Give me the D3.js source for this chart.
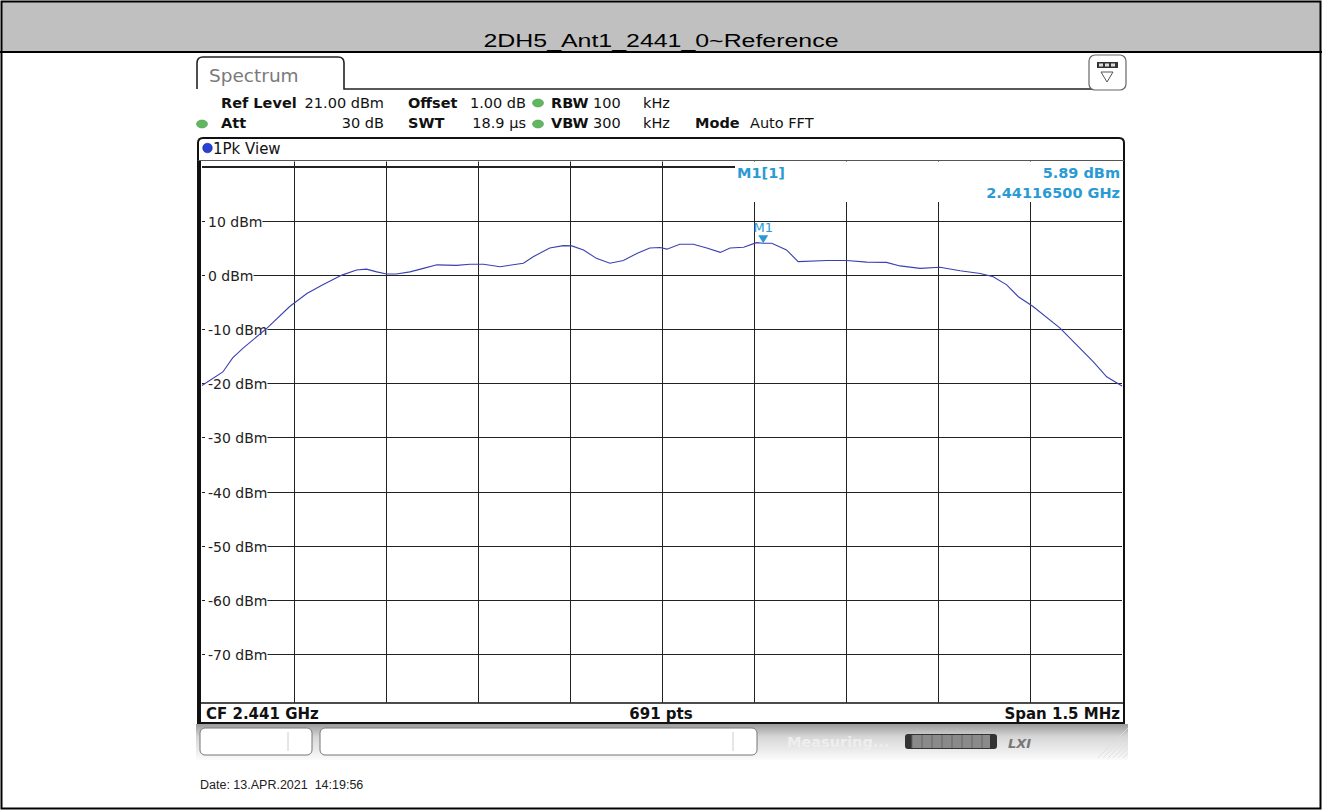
<!DOCTYPE html>
<html>
<head>
<meta charset="utf-8">
<script src="https://cdn.jsdelivr.net/npm/d3@7"></script>
<style>
  body { margin: 0; background: #fff; }
  svg { display: block; }
  .ui { font-family: "DejaVu Sans", Verdana, sans-serif; font-size: 14.5px; }
  .b { font-weight: bold; }
</style>
</head>
<body>
<div id="chart"></div>
<script>
// trace: offset from CF in kHz, level in dBm
const freqOffsetKHz = [-750, -716, -700, -683, -644, -607, -579, -553, -522, -498, -482, -465,
  -449, -433, -411, -389, -367, -335, -313, -291, -264, -226, -210, -183, -161, -147, -128,
  -107, -85, -63, -41, -20, -3, 8, 29, 51, 73, 95, 111, 133, 154, 165, 179, 203, 222, 269,
  301, 334, 366, 388, 421, 453, 486, 519, 540, 562, 581, 605, 649, 676, 703, 725, 750];
const levelDbm = [-20.4, -17.9, -15.3, -13.5, -9.8, -5.8, -3.4, -1.8, 0.0, 0.95, 1.1, 0.6,
  0.2, 0.2, 0.6, 1.25, 1.9, 1.8, 2.0, 2.0, 1.55, 2.2, 3.4, 5.0, 5.45, 5.4, 4.65,
  3.1, 2.2, 2.7, 4.0, 5.0, 5.1, 4.8, 5.7, 5.7, 5.0, 4.2, 5.0, 5.15, 6.0, 5.89, 5.9, 4.65, 2.5, 2.7,
  2.7, 2.4, 2.35, 1.7, 1.25, 1.45, 0.8, 0.3, -0.3, -1.8, -4.0, -5.8, -9.8, -12.9, -16.0, -18.8, -20.5];

const yGridValues = [20, 10, 0, -10, -20, -30, -40, -50, -60, -70];
const yTickLabels = ["10 dBm", "0 dBm", "-10 dBm", "-20 dBm", "-30 dBm", "-40 dBm", "-50 dBm", "-60 dBm", "-70 dBm"];
const xGridValues = [-600, -450, -300, -150, 0, 150, 300, 450, 600];

const marker = { name: "M1", offset: 165, level: 5.89 };

const W = 1322, H = 810;
const svg = d3.select("#chart").append("svg").attr("width", W).attr("height", H);

// page frame + title bar
svg.append("rect").attr("x", 0).attr("y", 0).attr("width", W).attr("height", H).attr("fill", "#fff");
svg.append("rect").attr("x", 2).attr("y", 2).attr("width", W - 4).attr("height", 50).attr("fill", "#c0c0c0");
svg.append("rect").attr("x", 1.5).attr("y", 1.5).attr("width", W - 3).attr("height", H - 3)
  .attr("fill", "none").attr("stroke", "#000").attr("stroke-width", 2);
svg.append("line").attr("x1", 0).attr("x2", W).attr("y1", 52).attr("y2", 52)
  .attr("stroke", "#000").attr("stroke-width", 2);
svg.append("text").attr("x", 661).attr("y", 46.5).attr("text-anchor", "middle")
  .style("font-family", "'Liberation Sans', Arial, sans-serif").style("font-size", "18px")
  .attr("textLength", 355).attr("lengthAdjust", "spacingAndGlyphs")
  .text("2DH5_Ant1_2441_0~Reference");

// analyzer screenshot area
const scr = svg.append("g");
scr.append("rect").attr("x", 196).attr("y", 53).attr("width", 932).attr("height", 717).attr("fill", "#fff");

// Spectrum tab
scr.append("path")
  .attr("d", "M197,89 L197,63 Q197,57 203,57 L338,57 Q344,57 344,63 L344,89 L1092,89")
  .attr("fill", "none").attr("stroke", "#222").attr("stroke-width", 1.6);
scr.append("text").attr("class", "ui").attr("x", 209).attr("y", 82)
  .style("font-size", "18.5px").attr("fill", "#7a7a7a").text("Spectrum");

// top-right icon
scr.append("rect").attr("x", 1089).attr("y", 55).attr("width", 37).attr("height", 35).attr("rx", 6)
  .attr("fill", "#fff").attr("stroke", "#666").attr("stroke-width", 1.2);
scr.append("rect").attr("x", 1097).attr("y", 62).attr("width", 21).attr("height", 6).attr("fill", "#333");
[1099, 1105, 1111].forEach(x => scr.append("rect").attr("x", x).attr("y", 63.5).attr("width", 4).attr("height", 3).attr("fill", "#ddd"));
scr.append("path").attr("d", "M1101,72 L1113,72 L1107,82 Z").attr("fill", "none").attr("stroke", "#555");

// settings rows
const greenDot = (x, y) => scr.append("ellipse").attr("cx", x).attr("cy", y).attr("rx", 5.5).attr("ry", 4)
  .attr("fill", "#5fb85f").attr("stroke", "#3d8d3d").attr("stroke-width", 0.5);
const txt = (x, y, s, bold, anchor) => scr.append("text").attr("class", "ui" + (bold ? " b" : ""))
  .attr("x", x).attr("y", y).attr("text-anchor", anchor || "start").attr("fill", "#111").text(s);

txt(221, 108, "Ref Level", true);
txt(384, 108, "21.00 dBm", false, "end");
txt(408, 108, "Offset", true);
txt(526, 108, "1.00 dB", false, "end");
greenDot(538, 103);
txt(551, 108, "RBW", true);
txt(593, 108, "100");
txt(643, 108, "kHz");

greenDot(202, 124);
txt(221, 128, "Att", true);
txt(384, 128, "30 dB", false, "end");
txt(408, 128, "SWT", true);
txt(526, 128, "18.9 µs", false, "end");
greenDot(538, 124);
txt(551, 128, "VBW", true);
txt(593, 128, "300");
txt(643, 128, "kHz");
txt(695, 128, "Mode", true);
txt(750, 128, "Auto FFT");

// scales
const x = d3.scaleLinear().domain([-750, 750]).range([202, 1122]);
const y = d3.scaleLinear().domain([-79, 21]).range([702.5, 161.5]);

// diagram frame
scr.append("path")
  .attr("d", "M198,723 L198,143 Q198,138 203,138 L1119,138 Q1124,138 1124,143 L1124,723 Z")
  .attr("fill", "#fff").attr("stroke", "#111").attr("stroke-width", 2);
scr.append("line").attr("x1", 199).attr("x2", 199).attr("y1", 160).attr("y2", 723)
  .attr("stroke", "#111").attr("stroke-width", 4);
scr.append("line").attr("x1", 198).attr("x2", 1124).attr("y1", 160.5).attr("y2", 160.5)
  .attr("stroke", "#555").attr("stroke-width", 1);
scr.append("circle").attr("cx", 207.5).attr("cy", 148).attr("r", 4.8).attr("fill", "#2a3fd6").attr("stroke", "#1a2a90").attr("stroke-width", 0.6);
scr.append("text").attr("class", "ui").attr("x", 213).attr("y", 153.5).style("font-size", "15px").attr("fill", "#111").text("1Pk View");

// grid
const grid = scr.append("g").attr("stroke", "#222").attr("stroke-width", 1);
grid.selectAll("line.h").data(yGridValues).enter().append("line")
  .attr("x1", x(-750)).attr("x2", x(750))
  .attr("y1", d => Math.round(y(d)) + 0.5).attr("y2", d => Math.round(y(d)) + 0.5);
grid.selectAll("line.v").data(xGridValues).enter().append("line")
  .attr("x1", d => Math.round(x(d)) + 0.5).attr("x2", d => Math.round(x(d)) + 0.5)
  .attr("y1", y(21)).attr("y2", y(-79));

// marker info box hides part of the grid
scr.append("rect").attr("x", 735).attr("y", 162).attr("width", 387).attr("height", 40).attr("fill", "#fff");

// y labels with white backing
const labels = scr.selectAll("g.ylab").data(yTickLabels).enter().append("g")
  .attr("transform", (d, i) => "translate(208," + (Math.round(y(yGridValues[i + 1])) + 0.5) + ")");
labels.append("text").attr("class", "ui").attr("y", 5).style("font-size", "14px").attr("fill", "#222").text(d => d)
  .each(function () {
    const bb = this.getBBox();
    d3.select(this.parentNode).insert("rect", "text")
      .attr("x", -3).attr("y", -6).attr("width", bb.width + 3).attr("height", 12).attr("fill", "#fff");
  });

// trace
const trace = freqOffsetKHz.map((f, i) => [f, levelDbm[i]]);
scr.append("path").datum(trace)
  .attr("fill", "none").attr("stroke", "#3a40b0").attr("stroke-width", 1.1)
  .attr("d", d3.line().x(d => x(d[0])).y(d => y(d[1])));

// marker
const mc = "#2a9ad4";
const mx = x(marker.offset), my = y(marker.level);
scr.append("path").attr("d", `M${mx - 5},${my - 8} L${mx + 5},${my - 8} L${mx},${my} Z`).attr("fill", mc);
scr.append("text").attr("class", "ui").attr("x", mx).attr("y", my - 11).attr("text-anchor", "middle")
  .attr("fill", mc).style("font-size", "13px").text(marker.name);
scr.append("line").attr("x1", 202).attr("x2", 735).attr("y1", 166.5).attr("y2", 166.5).attr("stroke", "#222");
scr.append("text").attr("class", "ui b").attr("x", 737).attr("y", 178).attr("fill", mc).text("M1[1]");
scr.append("text").attr("class", "ui b").attr("x", 1120).attr("y", 178).attr("text-anchor", "end").attr("fill", mc).text(marker.level.toFixed(2) + " dBm");
scr.append("text").attr("class", "ui b").attr("x", 1120).attr("y", 198).attr("text-anchor", "end").attr("fill", mc).text("2.44116500 GHz");

// footer row of diagram
scr.append("line").attr("x1", 199).attr("x2", 1124).attr("y1", 703).attr("y2", 703).attr("stroke", "#111").attr("stroke-width", 1.5);
scr.append("text").attr("class", "ui b").attr("x", 206).attr("y", 718.5).style("font-size", "15px").attr("fill", "#111").text("CF 2.441 GHz");
scr.append("text").attr("class", "ui b").attr("x", 661).attr("y", 718.5).style("font-size", "15px").attr("text-anchor", "middle").attr("fill", "#111").text("691 pts");
scr.append("text").attr("class", "ui b").attr("x", 1120).attr("y", 718.5).style("font-size", "15px").attr("text-anchor", "end").attr("fill", "#111").text("Span 1.5 MHz");

// status bar
const defs = svg.append("defs");
const lg = defs.append("linearGradient").attr("id", "sb").attr("x1", 0).attr("y1", 0).attr("x2", 0).attr("y2", 1);
lg.append("stop").attr("offset", "0").attr("stop-color", "#9a9a9a");
lg.append("stop").attr("offset", "0.35").attr("stop-color", "#d6d6d6");
lg.append("stop").attr("offset", "1").attr("stop-color", "#fbfbfb");
scr.append("rect").attr("x", 196).attr("y", 724).attr("width", 932).attr("height", 36).attr("fill", "url(#sb)");
scr.append("rect").attr("x", 200).attr("y", 728).attr("width", 112).attr("height", 27).attr("rx", 5)
  .attr("fill", "#fff").attr("stroke", "#777");
scr.append("line").attr("x1", 288).attr("x2", 288).attr("y1", 732).attr("y2", 751).attr("stroke", "#ccc");
scr.append("rect").attr("x", 320).attr("y", 728).attr("width", 437).attr("height", 27).attr("rx", 5)
  .attr("fill", "#fff").attr("stroke", "#777");
scr.append("line").attr("x1", 733).attr("x2", 733).attr("y1", 732).attr("y2", 751).attr("stroke", "#ccc");
scr.append("text").attr("class", "ui b").attr("x", 787).attr("y", 747).attr("fill", "#eeeeee").text("Measuring...");
scr.append("rect").attr("x", 905).attr("y", 734).attr("width", 92).attr("height", 15).attr("rx", 3).attr("fill", "#333");
scr.append("rect").attr("x", 912).attr("y", 735).attr("width", 78).attr("height", 13).attr("fill", "#8a8a8a");
d3.range(8).forEach(i => scr.append("line").attr("x1", 912 + i * 10).attr("x2", 912 + i * 10)
  .attr("y1", 735).attr("y2", 748).attr("stroke", "#666"));
scr.append("text").attr("x", 1008).attr("y", 748).style("font-family", "'DejaVu Sans', sans-serif")
  .style("font-size", "13px").style("font-style", "italic").style("font-weight", "bold").attr("fill", "#777").text("LXI");
d3.range(6).forEach(i => scr.append("line").attr("x1", 1098 + i * 5).attr("y1", 758).attr("x2", 1128).attr("y2", 758 - (30 - i * 5))
  .attr("stroke", "#ddd").attr("stroke-width", 0.8));

// date
svg.append("text").attr("x", 200).attr("y", 789)
  .style("font-family", "'Liberation Sans', Arial, sans-serif").style("font-size", "12.5px").attr("fill", "#222")
  .attr("xml:space", "preserve").text("Date: 13.APR.2021  14:19:56");
</script>
</body>
</html>
